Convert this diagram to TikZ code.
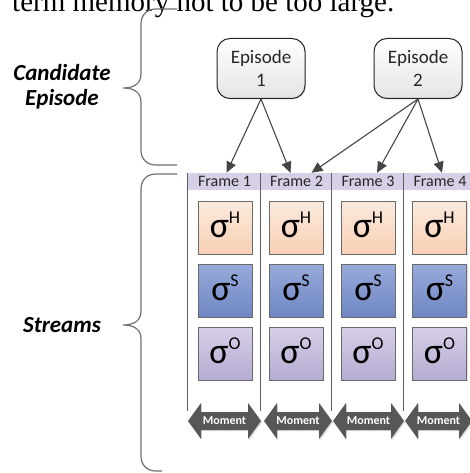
\documentclass[tikz,border=0pt]{standalone}
\usepackage{fontspec}
\setmainfont{Carlito}
\newfontfamily\bodyserif{Liberation Serif}
\usetikzlibrary{arrows.meta,shadows}

\definecolor{inkdark}{HTML}{262626}
\definecolor{linegray}{HTML}{5F5F5F}
\definecolor{bracegray}{HTML}{707070}
\definecolor{connink}{HTML}{454545}
\definecolor{hdrfill}{HTML}{D6CFE6}
\definecolor{boxedge}{HTML}{6A6A6A}
\definecolor{peachtop}{HTML}{FCEADD}
\definecolor{peachbot}{HTML}{F7D0B4}
\definecolor{bluetop}{HTML}{97AADA}
\definecolor{bluebot}{HTML}{6F86C3}
\definecolor{lavtop}{HTML}{D6CFE7}
\definecolor{lavbot}{HTML}{B6ABD2}
\definecolor{momentfill}{HTML}{575757}
\definecolor{epibottom}{HTML}{E4E4E4}

% sigma with a raised stream letter (the strut gives the label some depth
% so that it sits a little high in its box)
\newcommand\sigmalabel[1]{\fontsize{36}{36}\selectfont σ\raisebox{14pt}{\fontsize{18}{18}\selectfont #1}\rule[-6pt]{0pt}{6pt}}

% double-headed "Moment" arrow between two x positions
\newcommand\momentarrow[3]{%
  \path[momentshape] (#1,421) -- (#1+13,403) -- (#1+13,412) -- (#2-13,412)
    -- (#2-13,403) -- (#2,421) -- (#2-13,439) -- (#2-13,430) -- (#1+13,430)
    -- (#1+13,439) -- cycle;
  \node[momenttext] (#3) at ({(#1+#2)/2},421) {Moment};}

\tikzset{
  episode/.style={draw=inkdark, line width=1pt, rounded corners=13pt,
    top color=white, bottom color=epibottom,
    drop shadow={shadow xshift=1.2pt, shadow yshift=-1.2pt, opacity=0.2},
    minimum width=88pt, minimum height=60pt, inner sep=0pt, align=center,
    text=inkdark, font=\fontsize{19}{23}\selectfont},
  hdrcell/.style={fill=hdrfill, minimum height=17pt, inner sep=0pt,
    text=inkdark, font=\fontsize{16}{16}\selectfont},
  sepline/.style={draw=linegray, line width=1.1pt},
  sigbox/.style={draw=boxedge, line width=0.9pt, minimum width=54pt,
    minimum height=53pt, inner sep=0pt, text=black,
    drop shadow={shadow xshift=1.3pt, shadow yshift=-1.3pt, opacity=0.25}},
  hfill/.style={top color=peachtop, bottom color=peachbot},
  sfill/.style={top color=bluetop, bottom color=bluebot},
  ofill/.style={top color=lavtop, bottom color=lavbot},
  momentshape/.style={fill=momentfill,
    drop shadow={shadow xshift=1.2pt, shadow yshift=-1.2pt, opacity=0.25}},
  momenttext/.style={text=white, inner sep=0pt,
    font=\bfseries\fontsize{12}{12}\selectfont},
  conn/.style={draw=connink, line width=1.1pt,
    -{Triangle[length=11pt,width=10pt]}},
  bracepath/.style={draw=bracegray, line width=1.2pt},
  bracelabel/.style={inner sep=0pt, text=black, align=center,
    font=\bfseries\itshape\fontsize{23}{25}\selectfont},
}

\begin{document}
\begin{tikzpicture}[x=1pt,y=-1pt]
\useasboundingbox (0,0) rectangle (470,473);
\clip (0,0) rectangle (470,473);
\fill[white] (0,0) rectangle (470,473);

% running text of the page above the figure
\node[anchor=base west, inner sep=0pt,
  font=\bodyserif\fontsize{29}{29}\selectfont] (bodyline) at (12,12)
  {term memory not to be too large.};

% frame header band
\node[hdrcell, minimum width=73pt] (f1) at (224.5,181.5) {Frame 1};
\node[hdrcell, minimum width=71pt] (f2) at (296.5,181.5) {Frame 2};
\node[hdrcell, minimum width=72pt] (f3) at (368,181.5) {Frame 3};
\node[hdrcell, minimum width=72pt] (f4) at (440,181.5) {Frame 4};

% column separators
\draw[sepline] (f1.north west) -- ++(0,238);
\draw[sepline] (f2.north west) -- ++(0,238);
\draw[sepline] (f3.north west) -- ++(0,238);
\draw[sepline] (f4.north west) -- ++(0,238);

% stream boxes
\foreach \i/\x in {1/225,2/296,3/368,4/439.5}{
  \node[sigbox, hfill] (h\i) at (\x,227.5) {\sigmalabel{H}};
  \node[sigbox, sfill] (s\i) at (\x,290.5) {\sigmalabel{S}};
  \node[sigbox, ofill] (o\i) at (\x,353.5) {\sigmalabel{O}};
}

% moments
\momentarrow{188}{261}{m1}
\momentarrow{264}{332}{m2}
\momentarrow{333}{404}{m3}
\momentarrow{405}{472}{m4}

% candidate episodes
\node[episode] (ep1) at (261,68.5) {Episode\\1};
\node[episode] (ep2) at (418,68.5) {Episode\\2};

\draw[conn] (ep1.south) -- ([xshift=2pt]f1.north);
\draw[conn] (ep1.south) -- ([xshift=-6pt]f2.north);
\draw[conn] (ep2.south) -- ([xshift=15pt]f2.north);
\draw[conn] (ep2.south) -- ([xshift=9pt]f3.north);
\draw[conn] (ep2.south) -- ([xshift=2pt]f4.north);

% braces
\draw[bracepath] (177,9) -- (156,9) .. controls (147,9) and (141,15) .. (141,24)
  -- (141,74) .. controls (141,83) and (135,88) .. (123,88)
  .. controls (135,88) and (141,93) .. (141,102)
  -- (141,150) .. controls (141,159) and (147,165) .. (156,165) -- (177,165);
\draw[bracepath] (177,174) -- (156,174) .. controls (147,174) and (141,180) .. (141,189)
  -- (141,311) .. controls (141,320) and (135,325) .. (123,325)
  .. controls (135,325) and (141,330) .. (141,339)
  -- (141,456) .. controls (141,465) and (147,471) .. (156,471) -- (162,471);

% brace labels
\node[bracelabel] (cand) at (62,86.5) {Candidate\\Episode};
\node[bracelabel, anchor=base] (streams) at (62,332) {Streams};
\end{tikzpicture}
\end{document}
